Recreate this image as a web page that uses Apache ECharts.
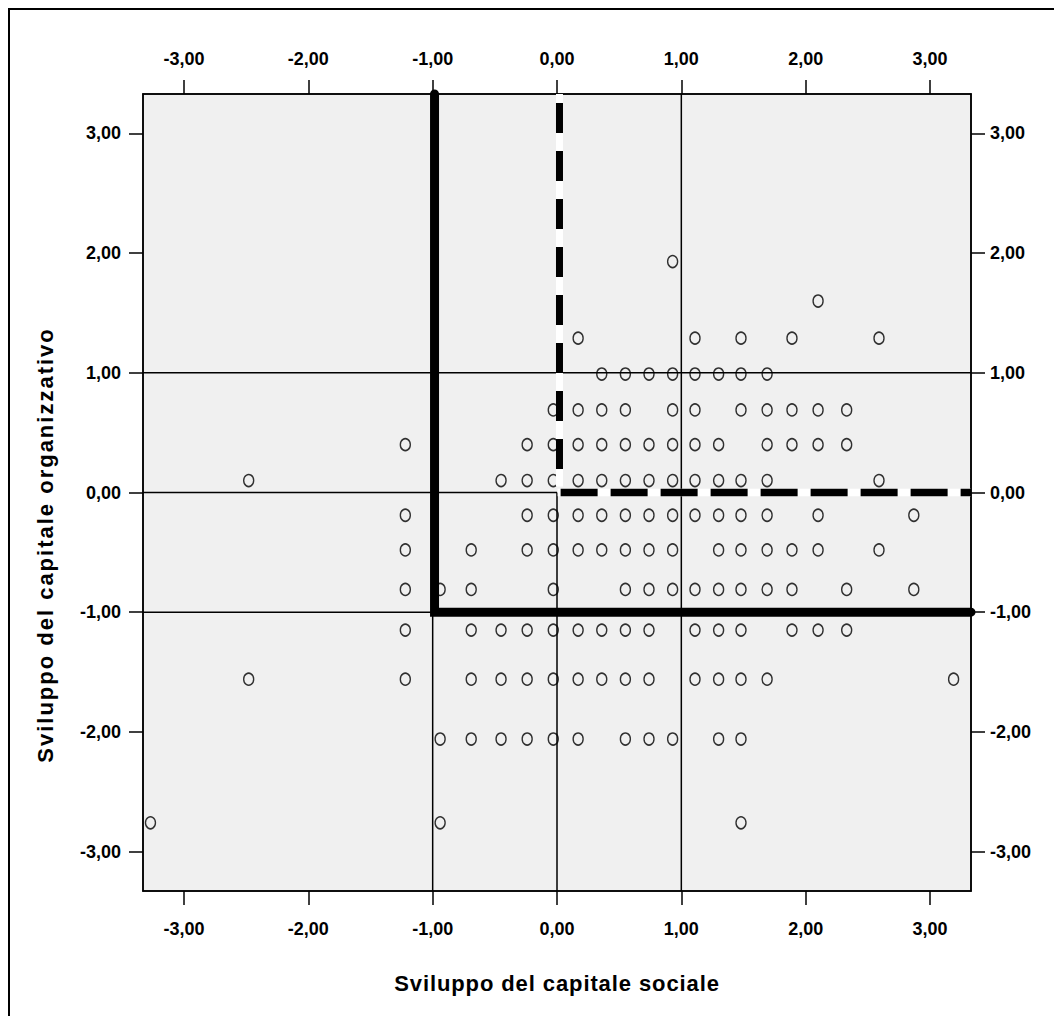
<!DOCTYPE html>
<html>
<head>
<meta charset="utf-8">
<script src="https://cdn.jsdelivr.net/npm/echarts@6/dist/echarts.min.js"></script>
<style>
  html, body { margin: 0; padding: 0; background: #fff; }
  #chart { width: 1054px; height: 1016px; }
</style>
</head>
<body>
<div id="chart"></div>
<script>
// axis range and tick labels (both axes)
const axisMin = -3.33
const axisMax = 3.33
const tickValues = [-3, -2, -1, 0, 1, 2, 3]

// scatter points: one y value per row, x values of the points on that row
const rowY = [1.93, 1.60, 1.29, 0.99, 0.69, 0.40, 0.10, -0.19, -0.48, -0.81, -1.15, -1.56, -2.06, -2.76]
const rowX = [
  [0.93],
  [2.10],
  [0.17, 1.11, 1.48, 1.89, 2.59],
  [0.36, 0.55, 0.74, 0.93, 1.11, 1.30, 1.48, 1.69],
  [-0.03, 0.17, 0.36, 0.55, 0.93, 1.11, 1.48, 1.69, 1.89, 2.10, 2.33],
  [-1.22, -0.24, -0.03, 0.17, 0.36, 0.55, 0.74, 0.93, 1.11, 1.30, 1.69, 1.89, 2.10, 2.33],
  [-2.48, -0.45, -0.24, -0.03, 0.17, 0.36, 0.55, 0.74, 0.93, 1.11, 1.30, 1.48, 1.69, 2.59],
  [-1.22, -0.24, -0.03, 0.17, 0.36, 0.55, 0.74, 0.93, 1.11, 1.30, 1.48, 1.69, 2.10, 2.87],
  [-1.22, -0.69, -0.24, -0.03, 0.17, 0.36, 0.55, 0.74, 0.93, 1.30, 1.48, 1.69, 1.89, 2.10, 2.59],
  [-1.22, -0.94, -0.69, -0.03, 0.55, 0.74, 0.93, 1.11, 1.30, 1.48, 1.69, 1.89, 2.33, 2.87],
  [-1.22, -0.69, -0.45, -0.24, -0.03, 0.17, 0.36, 0.55, 0.74, 1.11, 1.30, 1.48, 1.89, 2.10, 2.33],
  [-2.48, -1.22, -0.69, -0.45, -0.24, -0.03, 0.17, 0.36, 0.55, 0.74, 1.11, 1.30, 1.48, 1.69, 3.19],
  [-0.94, -0.69, -0.45, -0.24, -0.03, 0.17, 0.55, 0.74, 0.93, 1.30, 1.48],
  [-3.27, -0.94, 1.48]
]

// reference lines (data units)
const thinLines = [
  [[-1, axisMin], [-1, axisMax]],
  [[0, axisMin], [0, 0]],
  [[1, axisMin], [1, axisMax]],
  [[axisMin, -1], [axisMax, -1]],
  [[axisMin, 0], [0, 0]],
  [[axisMin, 1], [axisMax, 1]]
]
const thickCut = [[-0.985, axisMax], [-0.985, -1], [axisMax, -1]]
const dashedV = [[0.02, axisMax], [0.02, 0.05]]
const dashedH = [[0.005, 0], [axisMax, 0]]

const xName = 'Sviluppo del capitale sociale'
const yName = 'Sviluppo del capitale organizzativo'

const chart = echarts.init(document.getElementById('chart'), null, { renderer: 'svg' })

const points = []
rowY.forEach((y, i) => {
  rowX[i].forEach(x => points.push([x, y]))
})

const font = '"Liberation Sans", Arial, sans-serif'
const fmt = v => v.toFixed(2).replace('.', ',')

function makeAxis(position, margin, extra) {
  return Object.assign({
    type: 'value',
    position: position,
    min: axisMin,
    max: axisMax,
    axisLine: { show: true, onZero: false, lineStyle: { color: '#000', width: 1.5 } },
    axisTick: { show: true, inside: false, length: 14, customValues: tickValues, lineStyle: { color: '#000', width: 1.5 } },
    axisLabel: {
      customValues: tickValues,
      formatter: fmt,
      margin: margin,
      color: '#000',
      fontSize: 18,
      fontWeight: 'bold',
      fontFamily: font
    },
    splitLine: { show: false }
  }, extra || {})
}

function lineSeries(data, style, z) {
  return {
    type: 'line',
    data: data,
    symbol: 'none',
    clip: false,
    silent: true,
    z: z,
    lineStyle: style,
    animation: false
  }
}

const series = []
thinLines.forEach(seg => series.push(lineSeries(seg, { color: '#000', width: 1.5 }, 2)))
series.push({
  type: 'scatter',
  data: points,
  symbol: 'circle',
  symbolSize: [10, 12],
  z: 3,
  itemStyle: { color: 'rgba(0,0,0,0)', borderColor: '#000', borderWidth: 1.5 },
  animation: false
})
series.push(lineSeries(dashedV, { color: '#fff', width: 7 }, 4))
series.push(lineSeries(dashedH, { color: '#fff', width: 7.5 }, 4))
series.push(lineSeries(dashedV, { color: '#000', width: 7, type: [30, 18], dashOffset: 39 }, 5))
series.push(lineSeries(dashedH, { color: '#000', width: 7.5, type: [37, 13], dashOffset: 47 }, 5))
series.push(lineSeries(thickCut, { color: '#000', width: 9, cap: 'round', join: 'miter' }, 6))

chart.setOption({
  backgroundColor: '#fff',
  animation: false,
  grid: {
    show: true,
    left: 143,
    top: 94,
    right: 83,
    bottom: 125,
    backgroundColor: '#f0f0f0',
    borderColor: '#000',
    borderWidth: 1.5
  },
  graphic: [
    {
      type: 'rect',
      shape: { x: 9, y: 9, width: 1200, height: 1200 },
      style: { fill: 'none', stroke: '#000', lineWidth: 2 },
      silent: true
    },
    {
      type: 'text',
      x: 45,
      y: 545,
      rotation: Math.PI / 2,
      style: {
        text: yName,
        fill: '#000',
        font: 'bold 22px ' + font,
        align: 'center',
        verticalAlign: 'middle'
      }
    }
  ],
  xAxis: [
    makeAxis('bottom', 29, {
      name: xName,
      nameLocation: 'middle',
      nameGap: 81,
      nameTextStyle: { color: '#000', fontSize: 22, fontWeight: 'bold', fontFamily: font }
    }),
    makeAxis('top', 26)
  ],
  yAxis: [
    makeAxis('left', 22),
    makeAxis('right', 19)
  ],
  series: series
})

// SPSS draws the axis titles with loose letter spacing
function spreadTitles() {
  document.querySelectorAll('#chart svg text').forEach(t => {
    if (t.textContent === xName) t.style.letterSpacing = '0.9px'
    if (t.textContent === yName) t.style.letterSpacing = '2px'
  })
}
spreadTitles()
chart.on('finished', spreadTitles)
</script>
</body>
</html>
